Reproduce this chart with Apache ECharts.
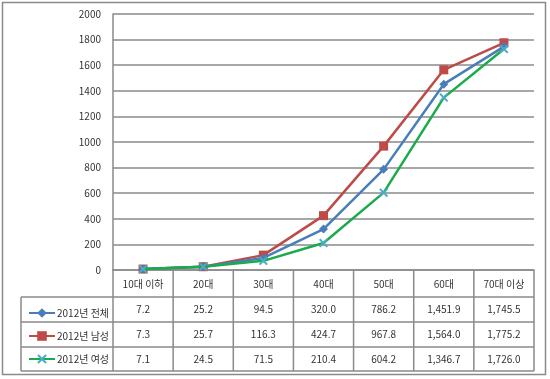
<!DOCTYPE html>
<html><head><meta charset="utf-8">
<script src="https://cdn.jsdelivr.net/npm/echarts@6/dist/echarts.min.js"></script>
<style>html,body{margin:0;padding:0;background:#fff}#c{width:550px;height:379px}</style>
</head><body><div id="c"></div>
<script>
const categories = ['10대 이하','20대','30대','40대','50대','60대','70대 이상'];
const seriesNames = ['2012년 전체','2012년 남성','2012년 여성'];
const total = [7.2,25.2,94.5,320.0,786.2,1451.9,1745.5];
const male = [7.3,25.7,116.3,424.7,967.8,1564.0,1775.2];
const female = [7.1,24.5,71.5,210.4,604.2,1346.7,1726.0];
const yTicks = [0,200,400,600,800,1000,1200,1400,1600,1800,2000];

const FONT = 'Noto Sans CJK KR';
const GL = 113, GR = 534, GT = 14, GB = 270;
const rows = [270, 297, 322, 347, 371];
const TL = 21;
const border = '#8a8a8a';

function fmt(v){ return v.toLocaleString('en-US',{minimumFractionDigits:1,maximumFractionDigits:1}); }

const allData = [total, male, female];
const graphics = [];
graphics.push({type:'rect', shape:{x:2.5,y:2.5,width:543,height:372}, style:{fill:'none', stroke:border, lineWidth:1.5}, z:0});
const colW = (GR - GL) / categories.length;
for (let i = 1; i < rows.length; i++) {
  graphics.push({type:'line', shape:{x1:TL,y1:rows[i],x2:GR,y2:rows[i]}, style:{stroke:border,lineWidth:1.5}});
}
graphics.push({type:'line', shape:{x1:TL,y1:rows[1],x2:TL,y2:rows[4]}, style:{stroke:border,lineWidth:1.5}});
for (let c = 0; c <= categories.length; c++) {
  const x = GL + c * colW;
  graphics.push({type:'line', shape:{x1:x,y1:rows[0],x2:x,y2:rows[4]}, style:{stroke:border,lineWidth:1.5}});
}
allData.forEach((arr, r) => {
  arr.forEach((v, c) => {
    graphics.push({type:'text', x: GL + (c + 0.5) * colW, y: (rows[r+1] + rows[r+2]) / 2,
      style:{text: fmt(v), fill:'#333', font:'10px "' + FONT + '"', align:'center', verticalAlign:'middle'}});
  });
});

const xSymbol = 'path://M0,1.5L1.5,0L5,3.5L8.5,0L10,1.5L6.5,5L10,8.5L8.5,10L5,6.5L1.5,10L0,8.5L3.5,5Z';

const option = {
  animation:false,
  textStyle:{fontFamily:FONT},
  grid:{left:GL, right:550-GR, top:GT, bottom:379-GB},
  legend:{
    orient:'vertical', left:23, top:303, itemGap:13, itemWidth:26, itemHeight:12,
    selectedMode:false, textStyle:{fontSize:10, color:'#333', fontFamily:FONT, padding:[0,0,0,-3]},
    data: seriesNames
  },
  xAxis:{type:'category', data:categories, boundaryGap:true,
    axisLine:{lineStyle:{color:border,width:1.5}}, axisTick:{show:false},
    axisLabel:{color:'#333', fontSize:10, margin:9, interval:0, fontFamily:FONT}},
  yAxis:{type:'value', min:yTicks[0], max:yTicks[yTicks.length-1], interval:yTicks[1]-yTicks[0],
    axisLine:{show:true, lineStyle:{color:border,width:1.5}}, axisTick:{show:false},
    splitLine:{lineStyle:{color:border,width:1.5}},
    axisLabel:{color:'#333', fontSize:10, margin:12, fontFamily:FONT, formatter: v => String(v)}},
  series:[
    {name:seriesNames[0], type:'line', data:total, symbol:'diamond', symbolSize:9,
      lineStyle:{color:'#4a7ebb', width:2.5}, itemStyle:{color:'#4a7ebb'}, z:3},
    {name:seriesNames[1], type:'line', data:male, symbol:'rect', symbolSize:9,
      lineStyle:{color:'#be4b48', width:2.5}, itemStyle:{color:'#be4b48'}, z:2},
    {name:seriesNames[2], type:'line', data:female, symbol:xSymbol, symbolSize:9,
      lineStyle:{color:'#1aab4a', width:2.5}, itemStyle:{color:'#4bacc6'}, z:4}
  ],
  graphic: graphics
};
const chart = echarts.init(document.getElementById('c'), null, {renderer:'canvas'});
chart.setOption(option);
</script></body></html>
